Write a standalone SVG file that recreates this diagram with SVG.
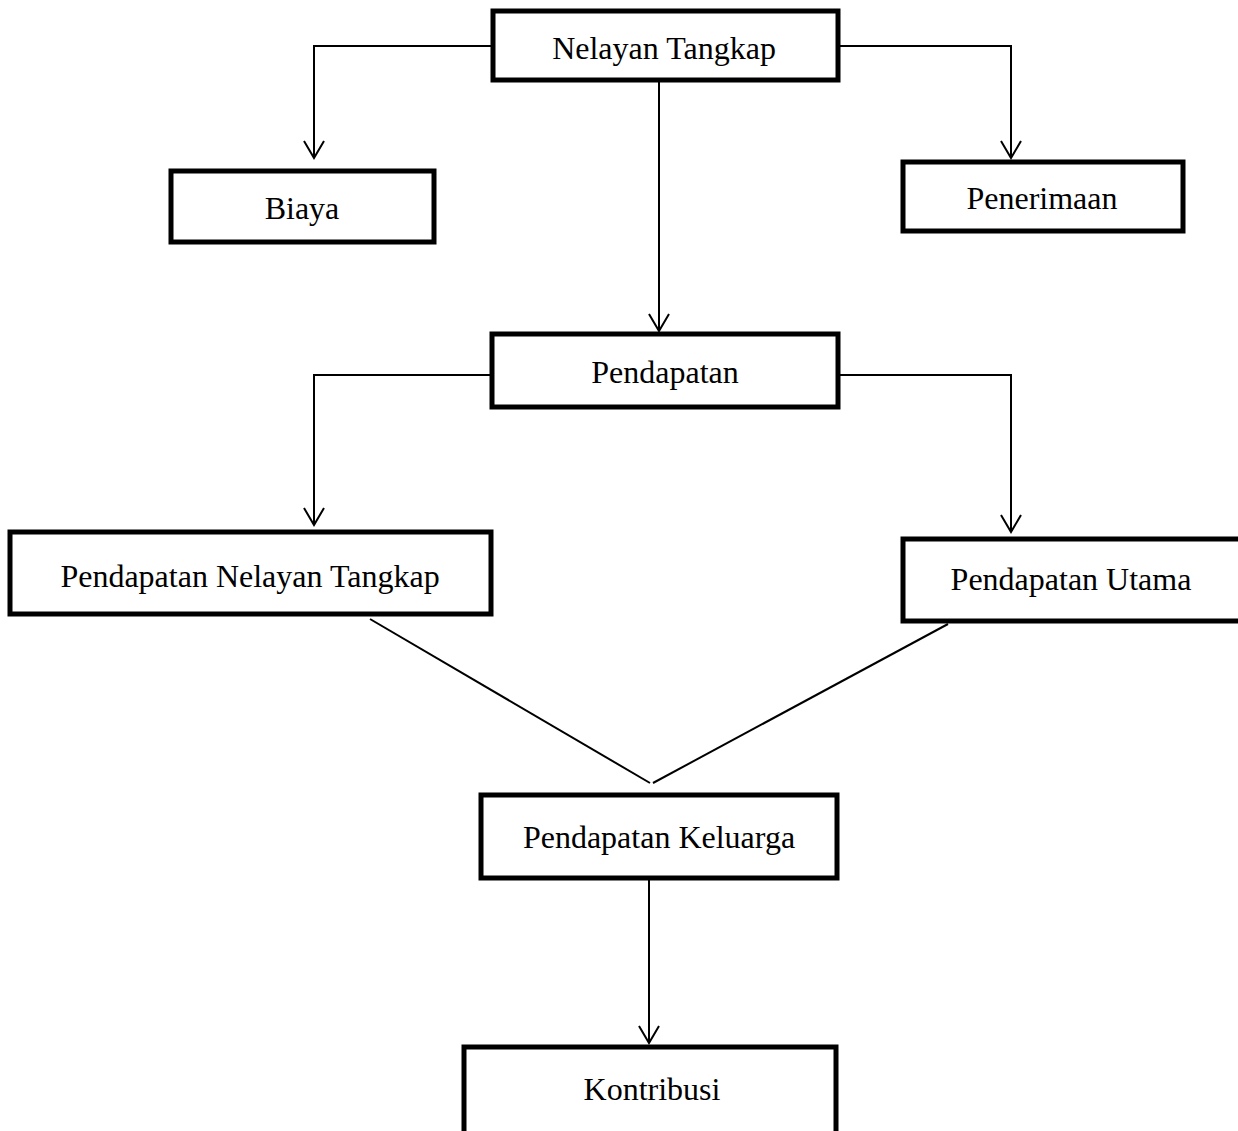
<svg xmlns="http://www.w3.org/2000/svg" width="1238" height="1131" viewBox="0 0 1238 1131">
<style>
.box{fill:#fff;stroke:#000;stroke-width:5}
.lbl{font-family:"Liberation Serif","Times New Roman",serif;font-size:32px;fill:#000;text-anchor:middle}
.con{fill:none;stroke:#000;stroke-width:2}
</style>
<defs>
<marker id="arrow" markerUnits="userSpaceOnUse" markerWidth="30" markerHeight="30" viewBox="-20 -15 30 30" refX="0" refY="0" orient="auto">
<path d="M-17,-10 L0,0 L-17,10" fill="none" stroke="#000" stroke-width="2"/>
</marker>
</defs>
<rect width="1238" height="1131" fill="#fff"/>
<g id="connectors">
<polyline class="con" points="493,46 314,46 314,158" marker-end="url(#arrow)"/>
<polyline class="con" points="838,46 1011,46 1011,158" marker-end="url(#arrow)"/>
<polyline class="con" points="659,81 659,331" marker-end="url(#arrow)"/>
<polyline class="con" points="492,375 314,375 314,525" marker-end="url(#arrow)"/>
<polyline class="con" points="840,375 1011,375 1011,532" marker-end="url(#arrow)"/>
<line class="con" x1="370" y1="619" x2="650" y2="783"/>
<line class="con" x1="948" y1="624" x2="653" y2="783"/>
<polyline class="con" points="649,880 649,1043" marker-end="url(#arrow)"/>
</g>
<g id="n-nelayan"><rect class="box" x="493" y="11" width="345" height="69"/><text class="lbl" x="664" y="59">Nelayan Tangkap</text></g>
<g id="n-biaya"><rect class="box" x="171" y="171" width="263" height="71"/><text class="lbl" x="302" y="219">Biaya</text></g>
<g id="n-penerimaan"><rect class="box" x="903" y="162" width="280" height="69"/><text class="lbl" x="1042" y="209">Penerimaan</text></g>
<g id="n-pendapatan"><rect class="box" x="492" y="334" width="346" height="73"/><text class="lbl" x="665" y="383">Pendapatan</text></g>
<g id="n-pnt"><rect class="box" x="10" y="532" width="481" height="82"/><text class="lbl" x="250" y="587">Pendapatan Nelayan Tangkap</text></g>
<g id="n-pu"><rect class="box" x="903" y="539" width="340" height="82"/><text class="lbl" x="1071" y="590">Pendapatan Utama</text></g>
<g id="n-pk"><rect class="box" x="481" y="795" width="356" height="83"/><text class="lbl" x="659" y="848">Pendapatan Keluarga</text></g>
<g id="n-kontribusi"><rect class="box" x="464" y="1047" width="372" height="90"/><text class="lbl" x="652" y="1100">Kontribusi</text></g>
</svg>
